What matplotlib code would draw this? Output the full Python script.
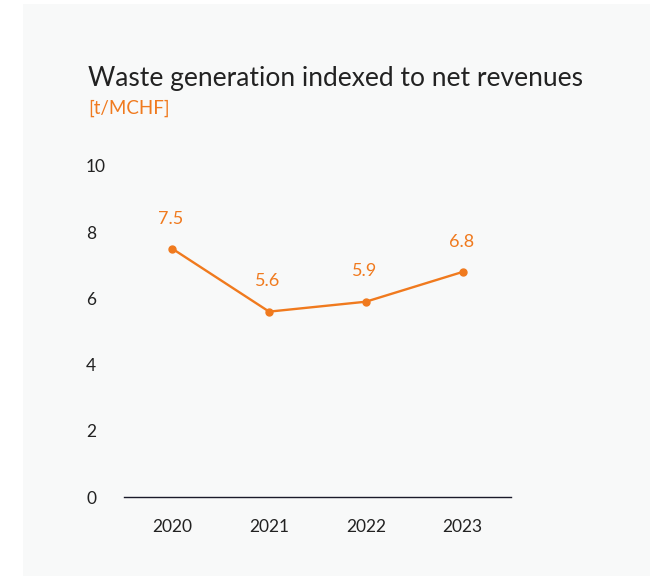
import matplotlib.pyplot as plt
from matplotlib.patches import Rectangle

years = ['2020', '2021', '2022', '2023']
waste_per_revenue = [7.5, 5.6, 5.9, 6.8]
y_ticks = [0, 2, 4, 6, 8, 10]

ORANGE = '#f07a1e'
DARK = '#222222'
PANEL = '#f8f9f9'

plt.rcParams['font.family'] = ['Lato', 'DejaVu Sans']

def main():
    fig = plt.figure(figsize=(6.5, 5.76), dpi=100)
    fig.patch.set_facecolor('white')
    # light grey card behind the chart
    fig.patches.append(Rectangle((23 / 650, 0), 1 - 23 / 650, (576 - 4) / 576,
                                 transform=fig.transFigure, facecolor=PANEL,
                                 edgecolor='none', zorder=-10))

    ax = fig.add_axes([124 / 650, (576 - 497) / 576, 387 / 650, 331 / 576])
    ax.set_facecolor('none')
    x = range(len(years))
    ax.plot(x, waste_per_revenue, color=ORANGE, lw=1.7, marker='o', ms=5,
            clip_on=False, zorder=3)
    for i, v in enumerate(waste_per_revenue):
        ax.annotate('%.1f' % v, (i, v), xytext=(-1, 16), textcoords='offset points',
                    ha='center', va='bottom', color=ORANGE, fontsize=13)

    ax.set_xlim(-0.5, 3.5)
    ax.set_ylim(0, 10)
    ax.set_xticks(list(x))
    ax.set_xticklabels(years)
    ax.set_yticks(y_ticks)
    ax.set_yticklabels([str(t) for t in y_ticks], ha='left')
    ax.tick_params(axis='both', length=0, colors=DARK, labelsize=12.5)
    ax.tick_params(axis='y', pad=27.3)
    ax.tick_params(axis='x', pad=15.5)
    for s in ['top', 'right', 'left']:
        ax.spines[s].set_visible(False)
    ax.spines['bottom'].set_color('#1a1a2a')
    ax.spines['bottom'].set_linewidth(1.0)

    fig.text(88 / 650, 1 - 86 / 576, 'Waste generation indexed to net revenues',
             fontsize=19, color=DARK, va='baseline', ha='left')
    fig.text(88 / 650, 1 - 113.5 / 576, '[t/MCHF]', fontsize=13.5,
             color=ORANGE, va='baseline', ha='left')

    plt.savefig('out.png', dpi=100, facecolor=fig.get_facecolor())

main()
